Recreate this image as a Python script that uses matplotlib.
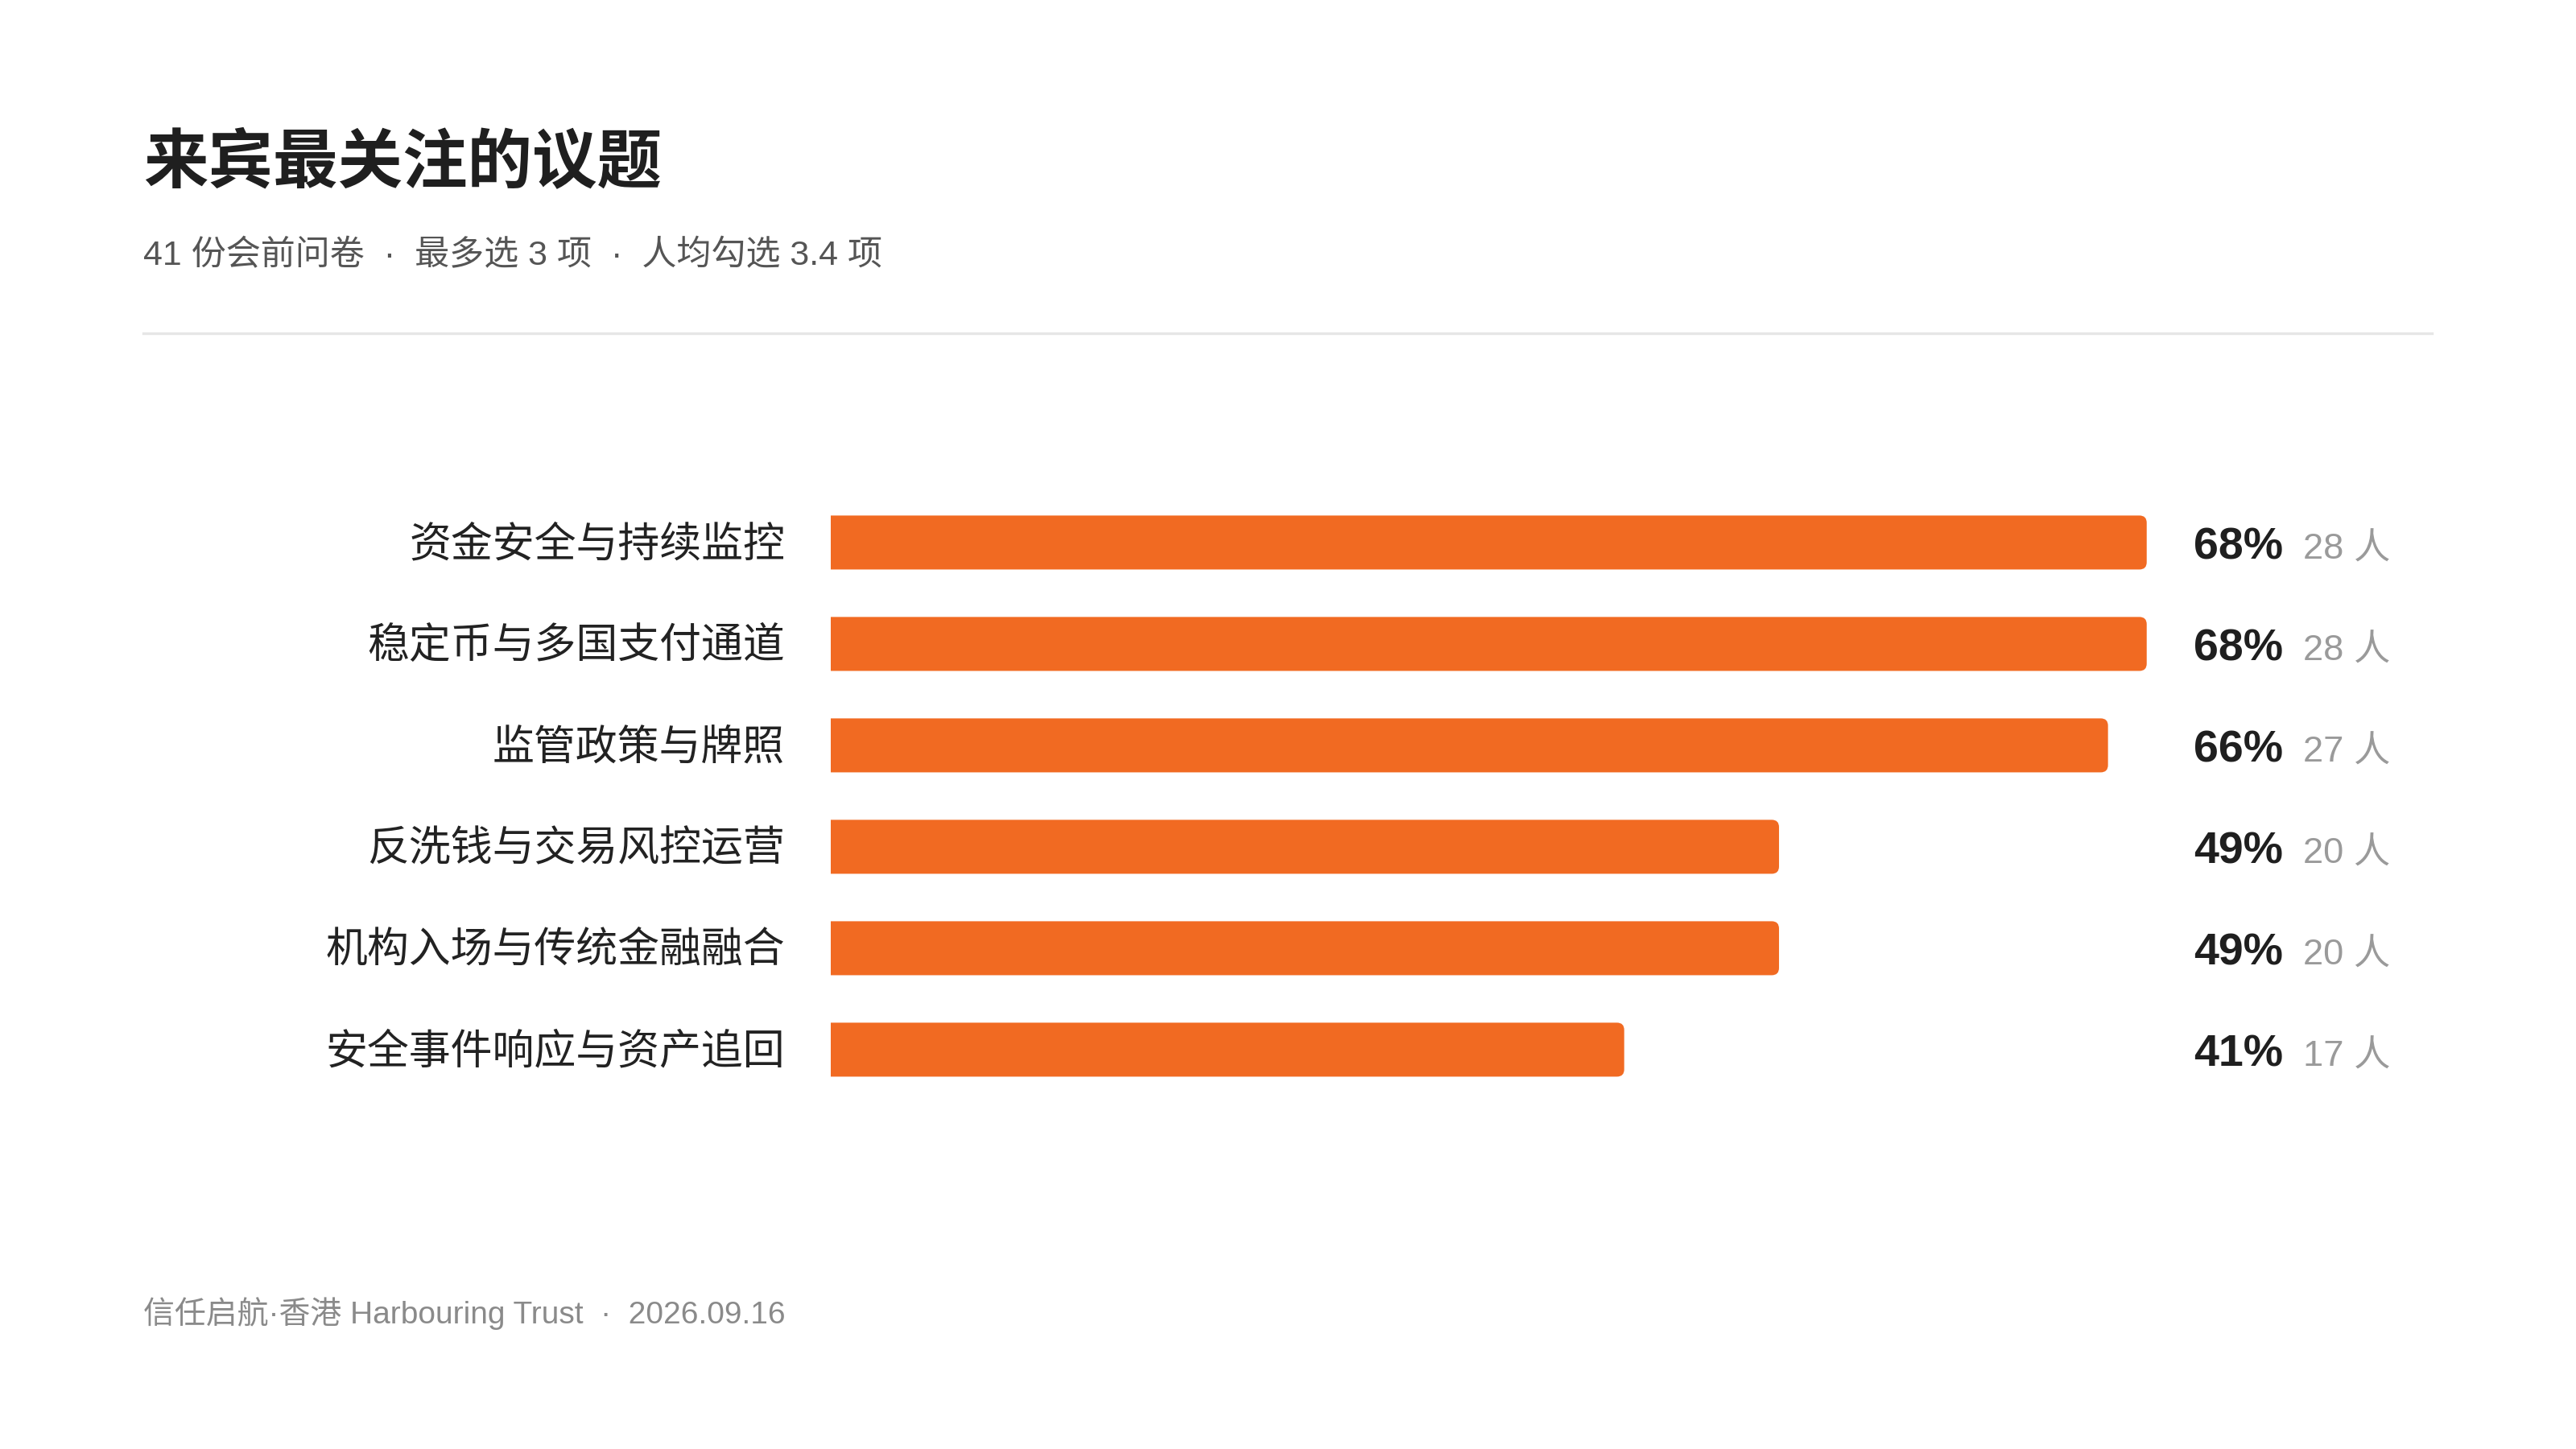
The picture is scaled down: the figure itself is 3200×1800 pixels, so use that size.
import matplotlib
matplotlib.use('Agg')
import matplotlib.pyplot as plt
import matplotlib.transforms as mtransforms
from matplotlib.patches import FancyBboxPatch

# latin glyphs from Liberation Sans, CJK falls back to Noto
plt.rcParams['font.family'] = ['Liberation Sans', 'Noto Sans CJK SC', 'DejaVu Sans']

TITLE = '来宾最关注的议题'
SUBTITLE = '41 份会前问卷  ·  最多选 3 项  ·  人均勾选 3.4 项'
FOOTER = '信任启航·香港 Harbouring Trust  ·  2026.09.16'

topics = ['资金安全与持续监控', '稳定币与多国支付通道', '监管政策与牌照',
          '反洗钱与交易风控运营', '机构入场与传统金融融合', '安全事件响应与资产追回']
pct = [68, 68, 66, 49, 49, 41]
counts = [28, 28, 27, 20, 20, 17]

BAR = '#F16A22'
DARK = '#1f1f1f'

fig = plt.figure(figsize=(16, 9), dpi=200)
fig.patch.set_facecolor('white')

# header
fig.text(0.0556, 0.886, TITLE, fontsize=29, fontweight='bold', color=DARK,
         ha='left', va='center')
fig.text(0.0556, 0.823, SUBTITLE, fontsize=15.5, color='#555555',
         ha='left', va='center')
fig.add_artist(plt.Line2D([0.0556, 0.944], [0.770, 0.770], transform=fig.transFigure,
                          color='#e6e6e6', lw=1.2))
fig.text(0.0556, 0.0935, FOOTER, fontsize=14, color='#8a8a8a',
         ha='left', va='center')

# bars
ax = fig.add_axes([0.3225, 0.2406, 0.601, 0.42])
ax.set_xlim(0, 80)
ax.set_ylim(5.5, -0.5)
ax.axis('off')

h = 0.532
px_x = 1923 / 80      # px per x unit
px_y = 126            # px per y unit
r_px = 9
aspect = px_x / px_y
tr_lab = mtransforms.blended_transform_factory(ax.transAxes, ax.transData)

for i, (name, p, c) in enumerate(zip(topics, pct, counts)):
    # start left of the axes so the clip gives a square left edge
    ax.add_patch(FancyBboxPatch((-2, i - h / 2), p + 2, h,
                                boxstyle=f'round,pad=0,rounding_size={r_px / px_x}',
                                mutation_aspect=aspect, fc=BAR, ec='none'))
    ax.text(-0.0296, i + 0.03, name, transform=tr_lab, ha='right', va='center',
            fontsize=18.7, color='#222222')
    t = ax.text(0.8804, i + 0.16, f'{p}%', transform=tr_lab, ha='left',
                va='baseline', fontsize=20, fontweight='bold', color=DARK)
    ax.annotate(f'{c} 人', xy=(1, i + 0.16), xycoords=(t, 'data'),
                xytext=(9, 0), textcoords='offset points', ha='left',
                va='baseline', fontsize=16.3, color='#9a9a9a')

fig.savefig('out.png', dpi=200, facecolor='white')
